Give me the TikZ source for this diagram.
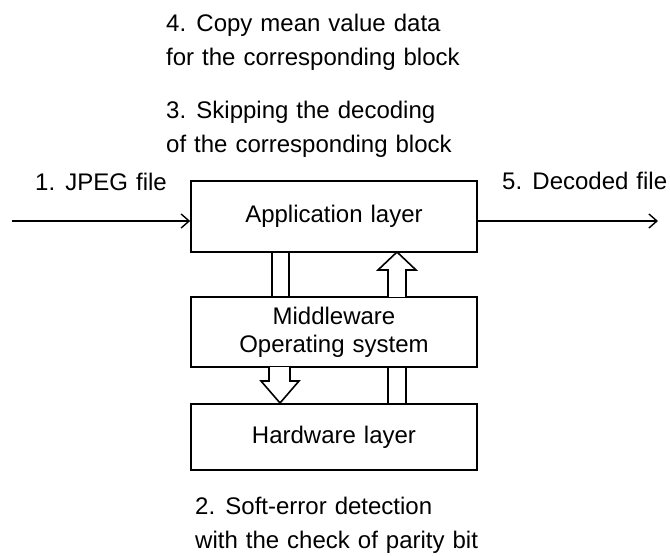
\documentclass[tikz,border=0pt]{standalone}
\usepackage{fontspec}
\setmainfont{Liberation Sans}[WordSpace=1.2]
\usetikzlibrary{arrows.meta,calc}
\begin{document}
\begin{tikzpicture}[x=1pt,y=-1pt,
  layer/.style={draw,line width=1.6pt,minimum width=286pt,inner sep=0pt,font=\fontsize{24}{30}\selectfont,align=center},
  lbl/.style={font=\fontsize{24}{34}\selectfont,inner sep=0pt,align=left},
  flow/.style={line width=1.4pt,-{Straight Barb[length=8pt,width=14pt,line width=1.4pt]}},
  blk/.style={draw,line width=1.6pt,fill=white,line join=miter}]
\useasboundingbox (0,0) rectangle (670,556);
\node[layer,minimum height=71pt] (app) at (334,216.5) {Application layer};
\node[layer,minimum height=70pt] (mid) at (334,332) {Middleware\\[-2pt]Operating system};
\node[layer,minimum height=66pt] (hw) at (334,437) {Hardware layer};
% plain bars
\draw[blk] (272,252) rectangle (289,297);
\draw[blk] (388,367) rectangle (406,404);
% up arrow
\draw[blk] (388,297) -- (388,270) -- (378,270) -- (397,252) -- (416,270) -- (406,270) -- (406,297);
% down arrow
\draw[blk] (269,367) -- (269,381) -- (261,381) -- (280,403) -- (299,381) -- (290,381) -- (290,367);
% in / out
\coordinate (in) at (12,221);
\coordinate (out) at (658,221);
\draw[flow] (in) -- (app.west |- in);
\draw[flow] (app.east |- out) -- (out);
\node[lbl,anchor=base west] (l1) at (35,191) {1. JPEG file};
\node[lbl,anchor=base west] (l5) at (502,190) {5. Decoded file};
\node[lbl,anchor=north west] (l4) at (166,14) {4. Copy mean value data\\for the corresponding block};
\node[lbl,anchor=north west] (l3) at (166,101) {3. Skipping the decoding\\of the corresponding block};
\node[lbl,anchor=north west] (l2) at (195,497) {2. Soft-error detection\\with the check of parity bit};
\end{tikzpicture}
\end{document}
